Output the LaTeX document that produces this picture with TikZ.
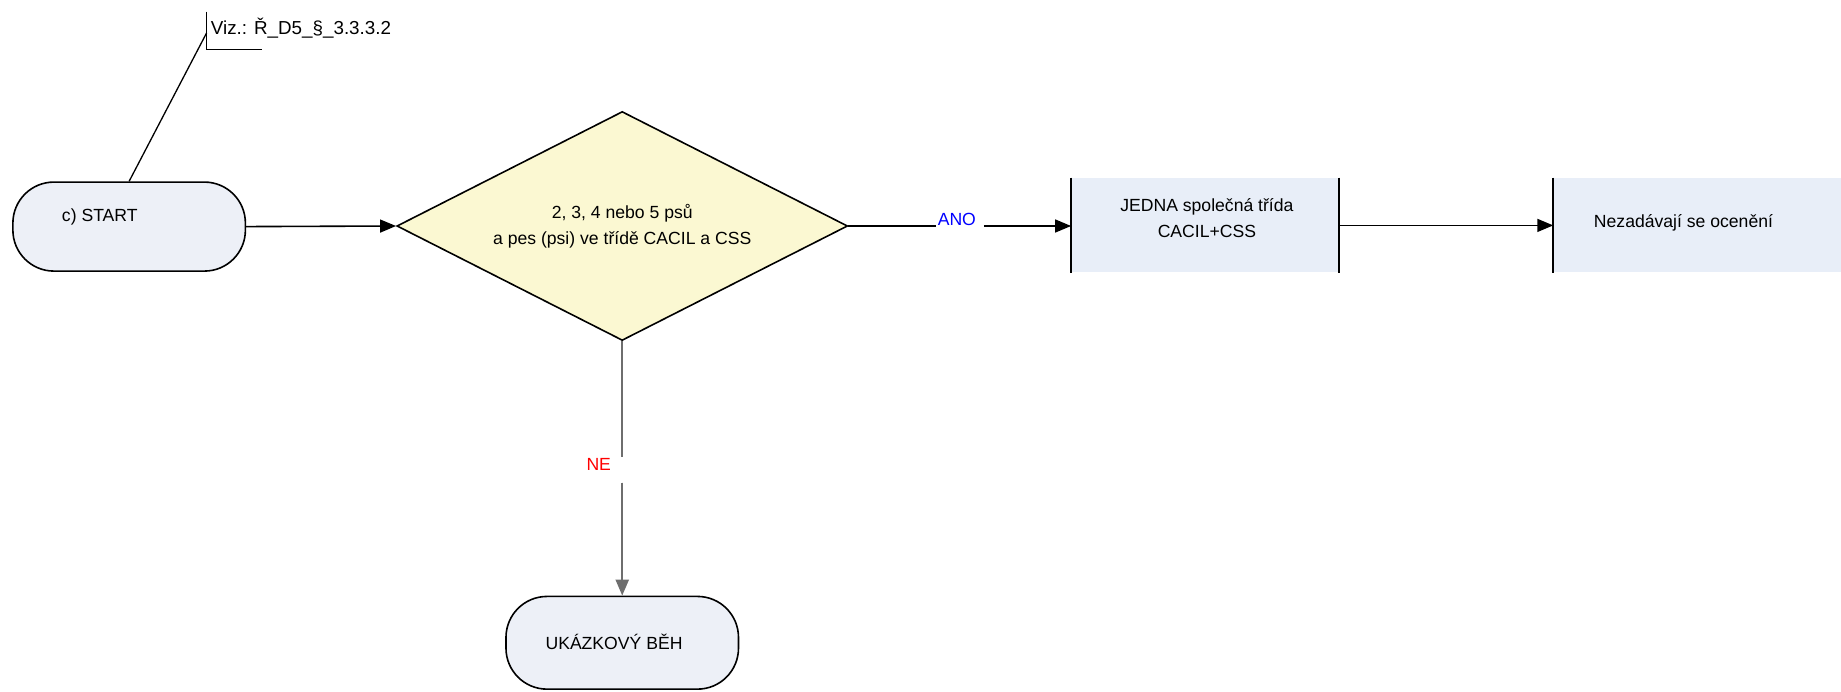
\documentclass[tikz,border=0pt]{standalone}
\usepackage{fontspec}
\setmainfont{Liberation Sans}
\usetikzlibrary{shapes.geometric,arrows.meta}
\definecolor{termfill}{RGB}{237,240,247}
\definecolor{decfill}{RGB}{251,248,210}
\definecolor{procfill}{RGB}{232,238,248}
\definecolor{flowgray}{RGB}{110,110,110}
\definecolor{anoblue}{RGB}{0,0,255}
\definecolor{nered}{RGB}{255,0,0}
\begin{document}
\begin{tikzpicture}[x=1.174pt,y=-1.174pt,
  font=\fontsize{17.6}{25.8}\selectfont,
  line width=1.6pt,
  >={Triangle[length=16pt,width=13pt]},
  term/.style={draw, fill=termfill, rounded corners=41pt, inner sep=0pt},
  decbox/.style={diamond, draw, fill=decfill, aspect=2, minimum width=450.8pt, minimum height=229pt, inner sep=0pt, align=center},
  procbox/.style={fill=procfill, inner sep=0pt},
  txt/.style={inner sep=0pt, align=center},
  flowline/.style={draw=flowgray, line width=2.3pt},
]
\useasboundingbox (0,0) rectangle (1568.1,588.6);

% callout
\coordinate (vt) at (176,10);
\coordinate (vb) at (176,42);
\coordinate (hr) at (223,42);
\coordinate (vm) at (176,28);
\node[txt, anchor=west, font=\fontsize{18.8}{22}\selectfont] (viz) at (179,24) {Viz.: Ř\_D5\_§\_3.3.3.2};

% start terminal
\node[term, minimum width=232.5pt, minimum height=89pt] (start) at (110,193) {};
\node[txt] (startt) at (85,185) {c) START};

% decision
\node[decbox] (dec) at (530,192.5) {2, 3, 4 nebo 5 psů\\a pes (psi) ve třídě CACIL a CSS};

% process boxes
\node[procbox, minimum width=266.5pt, minimum height=94pt] (jedna) at (1026.5,192) {};
\node[txt] (jednat) at (1028,186) {JEDNA společná třída\\CACIL+CSS};
\node[procbox, minimum width=610pt, minimum height=94pt, anchor=west] (nez) at (1323,192) {};
\node[txt, anchor=west] (nezt) at (1357,190) {Nezadávají se ocenění};
\draw (jedna.north west) -- (jedna.south west);
\draw (jedna.north east) -- (jedna.south east);
\draw (nez.north west) -- (nez.south west);

% end terminal
\node[term, minimum width=232.5pt, minimum height=92.7pt] (endn) at (530,547.5) {};
\node[txt, anchor=west] (endt) at (464,547) {UKÁZKOVÝ BĚH};

% callout lines
\draw[line width=1.3pt] (vt) -- (vb) -- (hr);
\draw[line width=1.3pt] (vm) -- (start.north);

% connectors
\draw[->] (start.east) -- (dec.west);

\node[txt, text=anoblue] (ano) at (815,187) {ANO};
\coordinate (anoL) at (797,192.5);
\coordinate (anoR) at (838,192.5);
\draw (dec.east) -- (anoL);
\draw[->] (anoR) -- (jedna.west |- anoR);

\draw[->] (jedna.east) -- (nez.west);

\node[txt, text=nered] (ne) at (510,396) {NE};
\coordinate (neT) at (530,389);
\coordinate (neB) at (530,411);
\draw[flowline] (dec.south) -- (neT);
\draw[flowline, ->, fill=flowgray] (neB) -- (endn.north);
\end{tikzpicture}
\end{document}
